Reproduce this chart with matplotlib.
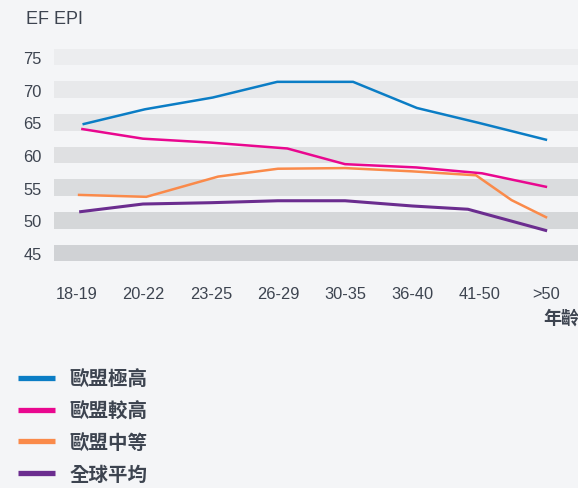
import matplotlib.pyplot as plt

# ------------------------------------------------------------------
# Data
# ------------------------------------------------------------------
age_groups = ["18-19", "20-22", "23-25", "26-29", "30-35", "36-40", "41-50", ">50"]
y_ticks = [45, 50, 55, 60, 65, 70, 75]

very_high_x = [0.09, 1.02, 2.03, 2.99, 4.12, 5.07, 6.0, 7.01]
very_high = [64.7, 67.0, 68.8, 71.2, 71.2, 67.2, 64.9, 62.3]

high_x = [0.07, 0.99, 2.0, 3.14, 4.0, 5.06, 6.04, 7.01]
high = [64.0, 62.5, 61.9, 61.0, 58.6, 58.1, 57.2, 55.1]

moderate_x = [0.02, 1.04, 2.11, 3.0, 4.0, 5.0, 5.95, 6.48, 7.01]
moderate = [53.9, 53.6, 56.7, 57.9, 58.0, 57.5, 56.9, 53.1, 50.4]

world_x = [0.04, 0.99, 2.0, 3.0, 4.0, 5.0, 5.83, 7.01]
world = [51.3, 52.5, 52.7, 53.0, 53.0, 52.2, 51.7, 48.4]

series_labels = ["歐盟極高", "歐盟較高", "歐盟中等", "全球平均"]
series_colors = ["#0b7dc5", "#e9078f", "#fa8a4a", "#6b2d8f"]
band_colors = ["#d0d2d5", "#d5d7d9", "#dadcde", "#dfe0e2", "#e4e5e7", "#e8e9eb", "#ecedef"]

bg = "#f4f5f7"
text_color = "#3d4450"
cjk = ["Noto Sans CJK TC", "DejaVu Sans"]
latin = ["Liberation Sans", "DejaVu Sans"]

# ------------------------------------------------------------------
# Plot
# ------------------------------------------------------------------
fig = plt.figure(figsize=(5.78, 4.89), dpi=100, facecolor=bg)
ax = fig.add_axes([0.0934, 0.4605, 0.9066, 0.4409], facecolor=bg)

for tick, col in zip(y_ticks, band_colors):
    ax.axhspan(tick - 1.25, tick + 1.3, color=col, lw=0, zorder=0)

xs = [very_high_x, high_x, moderate_x, world_x]
ys = [very_high, high, moderate, world]
widths = [1.8, 1.8, 1.8, 2.2]
for x, y, c, lw, lab in zip(xs, ys, series_colors, widths, series_labels):
    ax.plot(x, y, color=c, lw=lw, label=lab, solid_capstyle="butt", zorder=3)

ax.set_xlim(-0.335, 7.47)
ax.set_ylim(43.5, 76.5)
ax.set_xticks(range(len(age_groups)))
ax.set_xticklabels(age_groups)
ax.set_yticks(y_ticks)
for s in ax.spines.values():
    s.set_visible(False)
ax.tick_params(axis="both", length=0, labelsize=11.8, labelcolor=text_color)
ax.tick_params(axis="y", pad=9)
ax.tick_params(axis="x", pad=17)
for lbl in ax.get_xticklabels() + ax.get_yticklabels():
    lbl.set_family(latin)

fig.text(26 / 578, 1 - 20 / 489, "EF EPI", fontsize=13, color=text_color,
         family=latin, va="center", ha="left")
fig.text(543 / 578, 1 - 318 / 489, "年齡", fontsize=13, color=text_color,
         family=cjk, fontweight="bold", va="center", ha="left")

leg_handles = [plt.Line2D([], [], color=c, lw=3.8, solid_capstyle="butt")
               for c in series_colors]
leg = fig.legend(leg_handles, series_labels, loc="upper left",
                 bbox_to_anchor=(0 / 578, 1 - 353 / 489), frameon=False,
                 handlelength=1.93, handletextpad=0.75, labelspacing=0.66,
                 prop={"family": cjk, "size": 14, "weight": "bold"})
for t in leg.get_texts():
    t.set_color(text_color)

fig.savefig("out.png", dpi=100, facecolor=bg)
